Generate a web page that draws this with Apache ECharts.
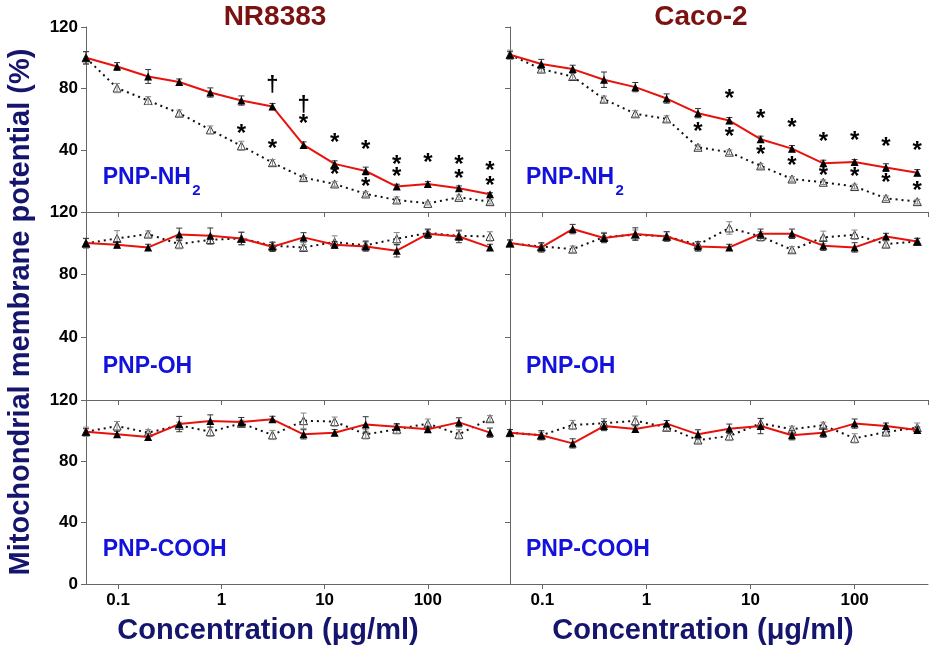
<!DOCTYPE html>
<html>
<head>
<meta charset="utf-8">
<script src="https://cdn.jsdelivr.net/npm/echarts@6/dist/echarts.min.js"></script>
<style>html,body{margin:0;padding:0;background:#fff}#c{width:937px;height:653px}</style>
</head>
<body>
<div id="c"></div>
<script>
// ---------- DATA ----------
const concentrations = [0.048828125, 0.09765625, 0.1953125, 0.390625, 0.78125, 1.5625, 3.125, 6.25, 12.5, 25, 50, 100, 200, 400];
const cellLines = ['NR8383', 'Caco-2'];
const particles = ['PNP-NH', 'PNP-OH', 'PNP-COOH'];
const xTickLabels = ['0.1', '1', '10', '100'];
const yTickValues = [0, 40, 80, 120];
const yAxisTitle = 'Mitochondrial membrane potential (%)';
const xAxisTitle = 'Concentration (\u03bcg/ml)';

// NR8383
const nrNH2Filled    = [100, 94.4, 87.9, 84.3, 77.5, 72.3, 68.4, 43.5, 31.2, 26.6, 16.5, 18.2, 15.4, 11.5];
const nrNH2FilledErr = [4, 2.5, 4.5, 2, 3, 3, 2, 2, 2, 2.5, 1.5, 1.5, 1.5, 1];
const nrNH2Open      = [100, 80.4, 72.3, 64.1, 53.3, 42.9, 32.0, 22.3, 18.2, 11.7, 7.8, 5.6, 9.5, 6.7];
const nrNH2OpenErr   = [4, 3, 2.5, 2, 2.5, 3, 2, 1.5, 1.5, 1.5, 2, 1, 1.5, 1.5];
const nrOHFilled     = [100.2, 99.1, 97.4, 105.7, 104.8, 103.1, 97.8, 103.8, 99.1, 98.0, 95.3, 106.1, 104.4, 97.4];
const nrOHFilledErr  = [3, 2, 2, 4, 5, 4, 3, 3, 2, 3, 4, 3, 4, 2];
const nrOHOpen       = [100, 103.1, 105.9, 99.5, 102.3, 103.1, 98.5, 97.4, 100.8, 98.7, 102.9, 106.6, 104.8, 104.4];
const nrOHOpenErr    = [3, 5, 2, 3, 3, 4, 2, 2, 4, 3, 4, 2, 3, 3];
const nrCOOHFilled   = [99.3, 97.6, 95.9, 104.3, 106.3, 105.6, 107.4, 97.6, 98.7, 104.1, 102.6, 100.9, 105.4, 98.7];
const nrCOOHFilledErr= [2, 2, 2, 5, 4, 3, 2, 3, 2, 5, 2, 2, 3, 3];
const nrCOOHOpen     = [99.3, 103, 98.7, 103.5, 99.3, 104.8, 97.2, 106.5, 105.9, 97.6, 100.9, 104.6, 97.6, 107.8];
const nrCOOHOpenErr  = [3, 3, 2, 2, 3, 2, 3, 5, 3, 3, 3, 3, 3, 2];

// Caco-2
const cacoNH2Filled    = [102, 96, 92.7, 85.8, 81, 73.6, 64.1, 59.3, 47.2, 41.1, 31.6, 32.5, 28.8, 25.5];
const cacoNH2FilledErr = [2, 3, 2.5, 5, 3, 3, 3, 2, 2, 2, 2, 1.5, 2.5, 2];
const cacoNH2Open      = [102, 92.7, 87.9, 73.2, 63.7, 60.4, 42, 38.8, 29.9, 21.4, 19.3, 16.5, 8.9, 6.7];
const cacoNH2OpenErr   = [3, 2, 2, 2, 2, 2, 1.5, 1.5, 1.5, 1.5, 1.5, 1.5, 1.5, 1.5];
const cacoOHFilled     = [100.2, 97.4, 109.1, 103.4, 105.9, 104.4, 98, 97.4, 106.1, 106.1, 98.5, 97.4, 104.4, 101.2];
const cacoOHFilledErr  = [2, 3, 3, 3, 4, 3, 3, 2, 3, 3, 3, 3, 2, 2];
const cacoOHOpen       = [100, 98, 96.3, 104, 105.5, 104.4, 99.1, 109.8, 104.4, 95.9, 103.8, 105.5, 99.5, 101.2];
const cacoOHOpenErr    = [2, 2, 2, 3, 3, 3, 2, 4, 3, 2, 4, 3, 2, 2];
const cacoCOOHFilled   = [98.7, 97, 91.7, 103, 101.1, 104.6, 97.6, 101.3, 103, 97, 98.7, 104.6, 103, 100.4];
const cacoCOOHFilledErr= [2, 3, 3, 3, 2, 2, 3, 3, 5, 3, 3, 3, 2, 2];
const cacoCOOHOpen     = [98.7, 97, 103.7, 104.8, 106.5, 102.2, 93.9, 96.5, 104.8, 100.9, 103.5, 95, 99.1, 102];
const cacoCOOHOpenErr  = [2, 2, 3, 3, 3, 2, 2, 3, 3, 2, 2, 3, 2, 3];

// significance marks: [concentration, value, symbol]
const nrNH2Marks = [
  [1.5625, 53.7, '*'], [3.125, 82.5, '\u2020'], [3.125, 44, '*'],
  [6.25, 69.5, '\u2020'], [6.25, 59.8, '*'], [12.5, 47.9, '*'], [12.5, 27.3, '*'],
  [25, 43.5, '*'], [25, 19, '*'], [50, 33.3, '*'], [50, 25.8, '*'], [100, 34.9, '*'],
  [200, 33.3, '*'], [200, 24.5, '*'], [400, 29.4, '*'], [400, 19.7, '*']
];
const cacoNH2Marks = [
  [3.125, 55, '*'], [6.25, 76, '*'], [6.25, 51.5, '*'], [12.5, 63.5, '*'], [12.5, 40.3, '*'],
  [25, 57.6, '*'], [25, 32.7, '*'], [50, 48.5, '*'], [50, 26.2, '*'], [100, 48.9, '*'], [100, 25.5, '*'],
  [200, 45.5, '*'], [200, 21.9, '*'], [400, 42.9, '*'], [400, 16.5, '*']
];

// ---------- LAYOUT ----------
const FONT = "'Liberation Sans', Arial, Helvetica, sans-serif";
const cols = [{left: 86, width: 419, max: 559}, {left: 510, width: 418, max: 507}];
const rows = [{top: 27, height: 185}, {top: 212, height: 188}, {top: 400, height: 184}];

const panels = [
  {r: 0, c: 0, f: nrNH2Filled, fe: nrNH2FilledErr, o: nrNH2Open, oe: nrNH2OpenErr, m: nrNH2Marks},
  {r: 1, c: 0, f: nrOHFilled, fe: nrOHFilledErr, o: nrOHOpen, oe: nrOHOpenErr, m: []},
  {r: 2, c: 0, f: nrCOOHFilled, fe: nrCOOHFilledErr, o: nrCOOHOpen, oe: nrCOOHOpenErr, m: []},
  {r: 0, c: 1, f: cacoNH2Filled, fe: cacoNH2FilledErr, o: cacoNH2Open, oe: cacoNH2OpenErr, m: cacoNH2Marks},
  {r: 1, c: 1, f: cacoOHFilled, fe: cacoOHFilledErr, o: cacoOHOpen, oe: cacoOHOpenErr, m: []},
  {r: 2, c: 1, f: cacoCOOHFilled, fe: cacoCOOHFilledErr, o: cacoCOOHOpen, oe: cacoCOOHOpenErr, m: []}
];

const grid = [], xAxis = [], yAxis = [], series = [];

function errSeries(idx, data, color, z) {
  return {
    type: 'custom', xAxisIndex: idx, yAxisIndex: idx, z: z, silent: true,
    data: data, encode: {x: 0, y: 1},
    renderItem: function (params, api) {
      const x = api.value(0), y = api.value(1), e = api.value(2);
      const t = api.coord([x, y + e]), b = api.coord([x, y - e]);
      const w = 3;
      const st = {stroke: color, lineWidth: 1};
      return {type: 'group', children: [
        {type: 'line', shape: {x1: t[0], y1: t[1], x2: b[0], y2: b[1]}, style: st},
        {type: 'line', shape: {x1: t[0] - w, y1: t[1], x2: t[0] + w, y2: t[1]}, style: st},
        {type: 'line', shape: {x1: b[0] - w, y1: b[1], x2: b[0] + w, y2: b[1]}, style: st}
      ]};
    }
  };
}

panels.forEach(function (p, i) {
  const col = cols[p.c], row = rows[p.r];
  grid.push({left: col.left, top: row.top, width: col.width, height: row.height, containLabel: false});
  const bottomRow = p.r === 2;
  xAxis.push({
    type: 'log', logBase: 10, gridIndex: i, min: concentrations[0], max: col.max,
    axisLine: {show: true, lineStyle: {color: '#666', width: 1}},
    axisTick: {show: true, length: 5, inside: false, lineStyle: {color: '#666'}},
    splitLine: {show: false}, minorTick: {show: false},
    axisLabel: {
      show: bottomRow, showMinLabel: false, showMaxLabel: false, margin: 8,
      color: '#000', fontWeight: 'bold', fontSize: 17, fontFamily: FONT,
      formatter: function (v) {
        const lg = Math.round(Math.log10(v));
        return xTickLabels[lg + 1] !== undefined ? xTickLabels[lg + 1] : '';
      }
    }
  });
  yAxis.push({
    type: 'value', gridIndex: i, min: yTickValues[0], max: yTickValues[3], interval: 40,
    axisLine: {show: true, lineStyle: {color: '#666', width: 1}},
    axisTick: {show: true, length: 5, inside: false, lineStyle: {color: '#666'}},
    splitLine: {show: false},
    axisLabel: {
      show: p.c === 0, showMinLabel: bottomRow, margin: 8,
      color: '#000', fontWeight: 'bold', fontSize: 17, fontFamily: FONT
    }
  });
  const openData = concentrations.map((c, k) => [c, p.o[k]]);
  const filledData = concentrations.map((c, k) => [c, p.f[k]]);
  series.push({
    type: 'line', xAxisIndex: i, yAxisIndex: i, z: 2, data: openData,
    symbol: 'triangle', symbolSize: 8, showAllSymbol: true,
    lineStyle: {color: '#111', width: 2, type: [2, 4]},
    itemStyle: {color: '#fff', borderColor: '#333', borderWidth: 1},
    emphasis: {disabled: true}
  });
  series.push(errSeries(i, concentrations.map((c, k) => [c, p.o[k], p.oe[k]]), '#888', 3));
  series.push(errSeries(i, concentrations.map((c, k) => [c, p.f[k], p.fe[k]]), '#333', 4));
  series.push({
    type: 'line', xAxisIndex: i, yAxisIndex: i, z: 5, data: filledData,
    symbol: 'triangle', symbolSize: 8, showAllSymbol: true,
    lineStyle: {color: '#e8120c', width: 2},
    itemStyle: {color: '#000'},
    emphasis: {disabled: true}
  });
  if (p.m.length) {
    const marks = p.m;
    series.push({
      type: 'custom', xAxisIndex: i, yAxisIndex: i, z: 6, silent: true,
      data: marks.map(m => [m[0], m[1]]), encode: {x: 0, y: 1},
      renderItem: function (params, api) {
        const pt = api.coord([api.value(0), api.value(1)]);
        const sym = marks[params.dataIndex][2];
        const isStar = sym === '*';
        const fs = isStar ? 24 : 22;
        return {type: 'text', x: pt[0], y: pt[1] + (isStar ? 0.21 * fs : 0),
          style: {text: sym, font: 'bold ' + fs + 'px ' + FONT, fill: '#000', align: 'center', verticalAlign: 'middle'}};
      }
    });
  }
});

const graphic = [];
// column titles
graphic.push({type: 'text', x: 275, y: 17, style: {text: cellLines[0], font: 'bold 28px ' + FONT, fill: '#7a1212', align: 'center', verticalAlign: 'middle'}});
graphic.push({type: 'text', x: 701, y: 17, style: {text: cellLines[1], font: 'bold 28px ' + FONT, fill: '#7a1212', align: 'center', verticalAlign: 'middle'}});
// panel labels
const labelY = [177.5, 366.8, 549.8];
const labelX = [102.7, 526];
labelX.forEach(function (lx) {
  particles.forEach(function (name, r) {
    graphic.push({type: 'text', x: lx, y: labelY[r], style: {text: name, font: 'bold 23px ' + FONT, fill: '#1212dc', align: 'left', verticalAlign: 'middle'}});
  });
  graphic.push({type: 'text', x: lx + 89.5, y: 190.5, style: {text: '2', font: 'bold 15px ' + FONT, fill: '#1212dc', align: 'left', verticalAlign: 'middle'}});
});
// axis titles
graphic.push({type: 'text', x: 21, y: 312, rotation: Math.PI / 2, style: {text: yAxisTitle, font: 'bold 29px ' + FONT, fill: '#15156e', align: 'center', verticalAlign: 'middle'}});
graphic.push({type: 'text', x: 268, y: 631, style: {text: xAxisTitle, font: 'bold 29px ' + FONT, fill: '#15156e', align: 'center', verticalAlign: 'middle'}});
graphic.push({type: 'text', x: 703, y: 631, style: {text: xAxisTitle, font: 'bold 29px ' + FONT, fill: '#15156e', align: 'center', verticalAlign: 'middle'}});

const chart = echarts.init(document.getElementById('c'), null, {renderer: 'canvas'});
chart.setOption({
  animation: false,
  backgroundColor: '#fff',
  grid: grid, xAxis: xAxis, yAxis: yAxis, series: series, graphic: graphic
});
</script>
</body>
</html>
